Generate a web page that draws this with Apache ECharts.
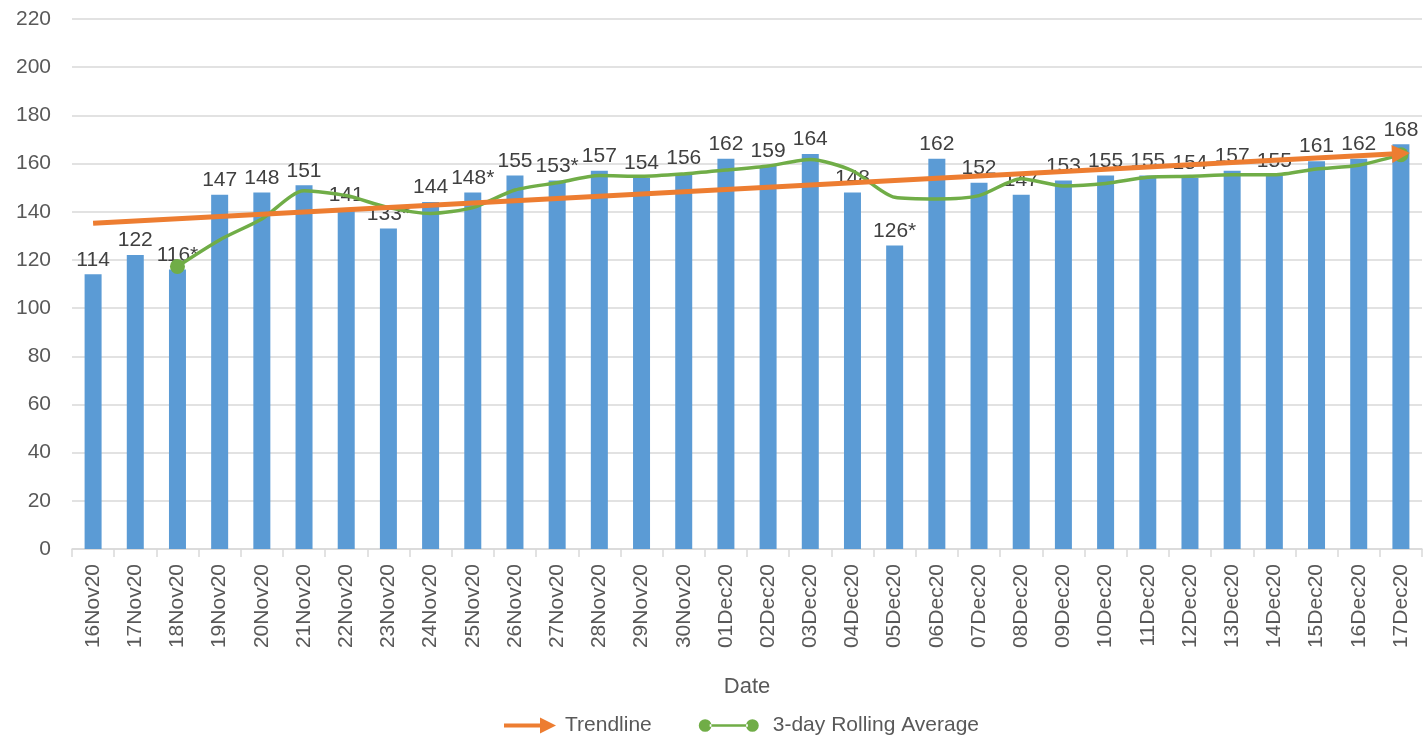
<!DOCTYPE html>
<html>
<head>
<meta charset="utf-8">
<script src="https://cdn.jsdelivr.net/npm/echarts@6/dist/echarts.min.js"></script>
<style>
  html, body { margin: 0; padding: 0; background: #fff; }
  #chart { width: 1425px; height: 739px; }
</style>
</head>
<body>
<div id="chart"></div>
<script>
// categories
const dates = [
  "16Nov20", "17Nov20", "18Nov20", "19Nov20", "20Nov20", "21Nov20", "22Nov20", "23Nov20",
  "24Nov20", "25Nov20", "26Nov20", "27Nov20", "28Nov20", "29Nov20", "30Nov20", "01Dec20",
  "02Dec20", "03Dec20", "04Dec20", "05Dec20", "06Dec20", "07Dec20", "08Dec20", "09Dec20",
  "10Dec20", "11Dec20", "12Dec20", "13Dec20", "14Dec20", "15Dec20", "16Dec20", "17Dec20"
];
// daily values (bars)
const daily = [
  114, 122, 116, 147, 148, 151, 141, 133, 144, 148, 155, 153, 157, 154, 156, 162,
  159, 164, 148, 126, 162, 152, 147, 153, 155, 155, 154, 157, 155, 161, 162, 168
];
// labels shown above the bars
const dailyLabels = [
  "114", "122", "116*", "147", "148", "151", "141", "133*", "144", "148*", "155", "153*", "157", "154", "156", "162",
  "159", "164", "148", "126*", "162", "152", "147", "153", "155", "155", "154", "157", "155", "161", "162", "168"
];
// 3-day rolling average
const rolling = [
  null, null, 117.3, 128.3, 137, 148.7, 146.7, 141.7, 139.3, 141.7, 149, 152, 155, 154.7, 155.7, 157.3,
  159, 161.7, 157, 146, 145.3, 146.7, 153.7, 150.7, 151.7, 154.3, 154.7, 155.3, 155.3, 157.7, 159.3, 163.7
];
// trendline start / end
const trendline = [135.2, 164.2];
const yTicks = { min: 0, max: 220, interval: 20 };

const FONT = "Liberation Sans";
const TXT = "#595959";
const GRID = "#d9d9d9";

const arrowIcon = "path://M0,6 L36,6 L36,0 L52,8 L36,16 L36,10 L0,10 Z";
const dotsIcon = "path://M0,8 A7,7 0 1,0 14,8 A7,7 0 1,0 0,8 Z M12,6.5 L54,6.5 L54,9.5 L12,9.5 Z M52,8 A7,7 0 1,0 66,8 A7,7 0 1,0 52,8 Z";

const lastIdx = rolling.length - 1;
const firstIdx = rolling.findIndex(v => v != null);
const rollingData = rolling.map((v, i) => {
  if (i === firstIdx || i === lastIdx) {
    return { value: v, symbol: "circle", symbolSize: 15 };
  }
  return v;
});

const chart = echarts.init(document.getElementById("chart"));
const option = {
  animation: false,
  textStyle: { fontFamily: FONT },
  grid: { left: 72, right: 3, top: 19, bottom: 190, containLabel: false },
  legend: {
    left: 499,
    top: 710,
    itemWidth: 60,
    itemHeight: 16,
    itemGap: 47,
    textStyle: { color: TXT, fontSize: 21, fontFamily: FONT },
    itemStyle: { borderWidth: 0 },
    data: [
      { name: "Trendline", icon: arrowIcon },
      { name: "3-day Rolling Average", icon: dotsIcon, textStyle: { padding: [0, 0, 0, 9] } }
    ]
  },
  xAxis: {
    type: "category",
    data: dates,
    name: "Date",
    nameLocation: "middle",
    nameGap: 127,
    nameTextStyle: { color: TXT, fontSize: 22, fontFamily: FONT },
    axisLine: { lineStyle: { color: GRID, width: 1.5 } },
    axisTick: { show: true, length: 8, lineStyle: { color: GRID, width: 1.5 } },
    axisLabel: { rotate: 90, margin: 15, color: TXT, fontSize: 21, fontFamily: FONT, interval: 0 }
  },
  yAxis: {
    type: "value",
    min: yTicks.min,
    max: yTicks.max,
    interval: yTicks.interval,
    axisLine: { show: false },
    axisTick: { show: false },
    axisLabel: { margin: 21, color: TXT, fontSize: 21, fontFamily: FONT },
    splitLine: { lineStyle: { color: GRID, width: 1.5 } }
  },
  series: [
    {
      name: "Daily",
      type: "bar",
      data: daily,
      barWidth: 17,
      z: 2,
      itemStyle: { color: "#5B9BD5" },
      label: {
        show: true,
        position: "top",
        distance: 4,
        color: "#404040",
        fontSize: 21,
        fontFamily: FONT,
        formatter: p => dailyLabels[p.dataIndex]
      }
    },
    {
      name: "3-day Rolling Average",
      type: "line",
      data: rollingData,
      z: 4,
      smooth: 0.25,
      symbol: "none",
      itemStyle: { color: "#70AD47", borderWidth: 0 },
      lineStyle: { color: "#70AD47", width: 3.5 },
      emphasis: { disabled: true }
    },
    {
      name: "Trendline",
      type: "line",
      data: [],
      z: 3,
      itemStyle: { color: "#ED7D31", borderWidth: 0 },
      lineStyle: { color: "#ED7D31", width: 5 },
      markLine: {
        silent: true,
        symbol: ["none", "triangle"],
        symbolSize: [18, 18],
        label: { show: false },
        lineStyle: { color: "#ED7D31", width: 5, type: "solid" },
        data: [[
          { coord: [dates[0], trendline[0]] },
          { coord: [dates[lastIdx], trendline[1]] }
        ]]
      }
    }
  ]
};
chart.setOption(option);
</script>
</body>
</html>
